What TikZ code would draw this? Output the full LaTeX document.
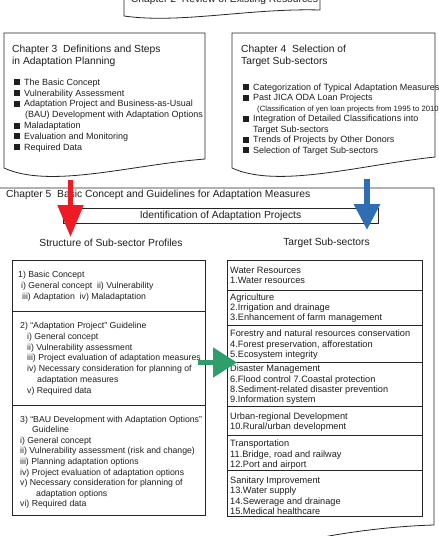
\documentclass[tikz,border=0pt]{standalone}
\usepackage{fontspec}
\setmainfont{Liberation Sans}
\usetikzlibrary{arrows.meta}

\definecolor{arrred}{HTML}{ED1C24}
\definecolor{arrblue}{HTML}{2F6DB5}
\definecolor{arrgreen}{HTML}{2E9E6B}
\newcommand{\blt}{\rule{6pt}{6pt}\hspace{4pt}}

\begin{document}
\begin{tikzpicture}[x=1pt, y=-1pt,
        doc/.style={draw=black!85, line width=0.8pt, fill=white},
        box/.style={draw=black!85, line width=0.8pt},
        txt/.style={anchor=north west, inner sep=0pt, align=left, text=black!88},
        big/.style={font=\fontsize{10.3}{12}\selectfont},
        lst/.style={font=\fontsize{9}{10.8}\selectfont},
        prof/.style={font=\fontsize{8.7}{10.7}\selectfont},
        sect/.style={font=\fontsize{9.2}{10.4}\selectfont},
        fat/.style={line width=#1, -{Triangle[width=26pt, length=28pt]}}
    ]
    \useasboundingbox (0,0) rectangle (439,536);
    \clip (0,0) rectangle (439,536);

    % Chapter 5 frame (runs off the page)
    \draw[doc] (-5,188) -- (434,188) -- (434,525)
        .. controls (400,526) and (360,530) .. (318,538) -- (-5,540) -- cycle;

    % Chapter 2
    \draw[doc] (124,-20) -- (320,-20) -- (320,10)
        .. controls (250,8) and (180,24) .. (124,16) -- cycle;
    \node[big, text=black!88, anchor=base] (ch2) at (224.5,2) {Chapter 2\ \ Review of Existing Resources};

    % Chapter 3
    \draw[doc] (4,33) -- (205,33) -- (205,159)
        .. controls (130,165) and (50,189) .. (4,168) -- cycle;
    \node[txt, big] (ch3title) at (12,45.2) {Chapter 3\ \ Definitions and Steps\\in Adaptation Planning};
    \node[txt, lst] (ch3list) at (14,78.6) {\blt The Basic Concept\\
        \blt Vulnerability Assessment\\
        \blt Adaptation Project and Business-as-Usual\\
        \hspace{11pt}(BAU) Development with Adaptation Options\\
        \blt Maladaptation\\
        \blt Evaluation and Monitoring\\
        \blt Required Data};

    % Chapter 4
    \draw[doc] (232,33) -- (435,33) -- (435,157)
        .. controls (360,165) and (278,189) .. (232,168) -- cycle;
    \node[txt, big] (ch4title) at (241,45.2) {Chapter 4\ \ Selection of\\Target Sub-sectors};
    \node[txt, lst, font=\fontsize{9}{10.5}\selectfont] (ch4list) at (243,83.6) {\blt Categorization of Typical Adaptation Measures\\
        \blt Past JICA ODA Loan Projects\\
        \hspace{14pt}{\fontsize{7.7}{10.5}\selectfont (Classification of yen loan projects from 1995 to 2010)}\\
        \blt Integration of Detailed Classifications into\\
        \hspace{10pt}Target Sub-sectors\\
        \blt Trends of Projects by Other Donors\\
        \blt Selection of Target Sub-sectors};

    % Chapter 5 contents
    \node[big, text=black!88, anchor=west, inner sep=0pt] (ch5title) at (6,195) {Chapter 5\ \ Basic Concept and Guidelines for Adaptation Measures};
    \node[box, big, text=black!88, minimum width=315pt, minimum height=15pt, inner sep=0pt] (ident) at (220.5,215.5) {Identification of Adaptation Projects};
    \node[big, text=black!88, inner sep=0pt] (structure) at (111,243) {Structure of Sub-sector Profiles};
    \node[big, text=black!88, inner sep=0pt] (target) at (326.5,243) {Target Sub-sectors};

    % Sub-sector profiles
    \draw[box] (12,260) rectangle (205,515);
    \draw[box] (12,311) -- (205,311) (12,405) -- (205,405);
    \node[txt, prof, font=\fontsize{8.7}{11.2}\selectfont] (sec1) at (18,270.8) {1) Basic Concept\\
        \hspace{3pt}i) General concept\ \ ii) Vulnerability\\
        \hspace{4pt}iii) Adaptation\ \ iv) Maladaptation};
    \node[txt, prof] (sec2) at (20,322.3) {2) “Adaptation Project” Guideline\\
        \hspace{7pt}i) General concept\\
        \hspace{7pt}ii) Vulnerability assessment\\
        \hspace{7pt}iii) Project evaluation of adaptation measures\\
        \hspace{7pt}iv) Necessary consideration for planning of\\
        \hspace{17pt}adaptation measures\\
        \hspace{7pt}v) Required data};
    \node[txt, prof, font=\fontsize{8.7}{10.6}\selectfont] (sec3) at (20,415.6) {3) “BAU Development with Adaptation Options”\\
        \hspace{12pt}Guideline\\
        i) General concept\\
        ii) Vulnerability assessment (risk and change)\\
        iii) Planning adaptation options\\
        iv) Project evaluation of adaptation options\\
        v) Necessary consideration for planning of\\
        \hspace{16pt}adaptation options\\
        vi) Required data};

    % Target sub-sectors
    \draw[box] (227,260) rectangle (422,516);
    \draw[box] (227,290) -- (422,290) (227,325) -- (422,325) (227,362) -- (422,362)
        (227,406) -- (422,406) (227,435) -- (422,435) (227,470) -- (422,470);
    \node[txt, sect] (water) at (230,266.6) {Water Resources\\1.Water resources};
    \node[txt, sect] (agri) at (230,293.3) {Agriculture\\2.Irrigation and drainage\\3.Enhancement of farm management};
    \node[txt, sect] (forest) at (230,329.9) {Forestry and natural resources conservation\\4.Forest preservation, afforestation\\5.Ecosystem integrity};
    \node[txt, sect] (disaster) at (230,364.9) {Disaster Management\\6.Flood control 7.Coastal protection\\8.Sediment-related disaster prevention\\9.Information system};
    \node[txt, sect] (urban) at (230,412.6) {Urban-regional Development\\10.Rural/urban development};
    \node[txt, sect] (transport) at (230,439.9) {Transportation\\11.Bridge, road and railway\\12.Port and airport};
    \node[txt, sect] (sanitary) at (230,476.6) {Sanitary Improvement\\13.Water supply\\14.Sewerage and drainage\\15.Medical healthcare};

    % Flow arrows
    \coordinate (redtop) at (70.5,180);
    \coordinate (redtip) at (70.5,237);
    \coordinate (bluetop) at (367,179);
    \coordinate (bluetip) at (367,230);
    \coordinate (greentail) at (198,362.5);
    \coordinate (greentip) at (237,362.5);
    \draw[fat=5pt, arrred, -{Triangle[width=25pt, length=32pt]}] (redtop) -- (redtip);
    \draw[fat=6pt, arrblue, -{Triangle[width=25pt, length=26pt]}] (bluetop) -- (bluetip);
    \draw[fat=5pt, arrgreen, -{Triangle[width=29pt, length=24pt]}] (greentail) -- (greentip);

\end{tikzpicture}
\end{document}
